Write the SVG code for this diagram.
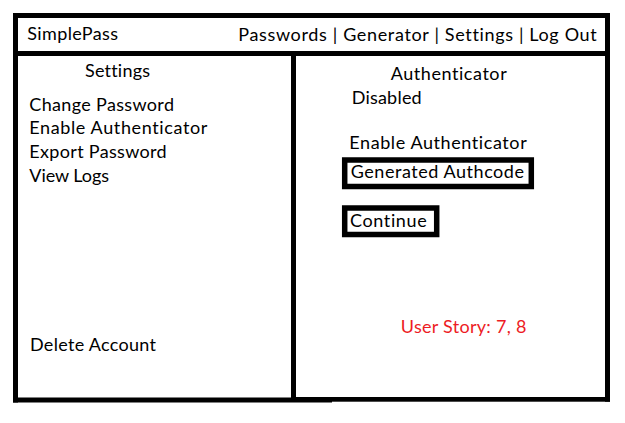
<svg xmlns="http://www.w3.org/2000/svg" width="625" height="423" viewBox="0 0 625 423">
<style>
.t{font-family:Lato,"Open Sans","Liberation Sans",sans-serif;font-size:18px;fill:#000;font-variant-ligatures:none;font-feature-settings:"liga" 0,"clig" 0}
.red{fill:#ed1c24}
.bar{fill:#000}
.btn{fill:#fff;stroke:#000;stroke-width:5.5}
</style>
<rect width="625" height="423" fill="#fff"/>
<g id="frame">
<rect class="bar" x="13" y="13" width="597" height="5"/>
<rect class="bar" x="13" y="13" width="5" height="389.5"/>
<rect class="bar" x="605" y="13" width="5" height="388.7"/>
<rect class="bar" x="13" y="51" width="597" height="5"/>
<rect class="bar" x="291" y="51" width="5" height="351"/>
<rect class="bar" x="291" y="397" width="319" height="4.7"/>
<rect class="bar" x="13" y="397.5" width="319" height="5"/>
</g>
<g id="header">
<text class="t" x="27.3" y="40" textLength="90.7">SimplePass</text>
<text class="t" x="238.3" y="40.5" textLength="358.4">Passwords | Generator | Settings | Log Out</text>
</g>
<g id="settings-menu">
<text class="t" x="85" y="76.7" textLength="65">Settings</text>
<text class="t" x="29.3" y="110.7" textLength="144.7">Change Password</text>
<text class="t" x="29.3" y="134.3" textLength="178">Enable Authenticator</text>
<text class="t" x="29.3" y="158.3" textLength="137.4">Export Password</text>
<text class="t" x="29.3" y="182.3" textLength="79.7">View Logs</text>
<text class="t" x="30" y="351" textLength="126">Delete Account</text>
</g>
<g id="authenticator-panel">
<text class="t" x="390.7" y="80" textLength="116">Authenticator</text>
<text class="t" x="351.7" y="104.3" textLength="70">Disabled</text>
<text class="t" x="349.3" y="149" textLength="177.4">Enable Authenticator</text>
</g>
<g id="authcode-field">
<rect class="btn" x="344.7" y="160" width="186.6" height="26.5"/>
<text class="t" x="350.7" y="178.3" textLength="173.3">Generated Authcode</text>
</g>
<g id="continue-button">
<rect class="btn" x="344.7" y="208" width="92" height="26.5"/>
<text class="t" x="350" y="226.7" textLength="76.7">Continue</text>
</g>
<g id="user-story">
<text class="t red" x="400.8" y="332.7" textLength="125.6">User Story: 7, 8</text>
</g>
</svg>
